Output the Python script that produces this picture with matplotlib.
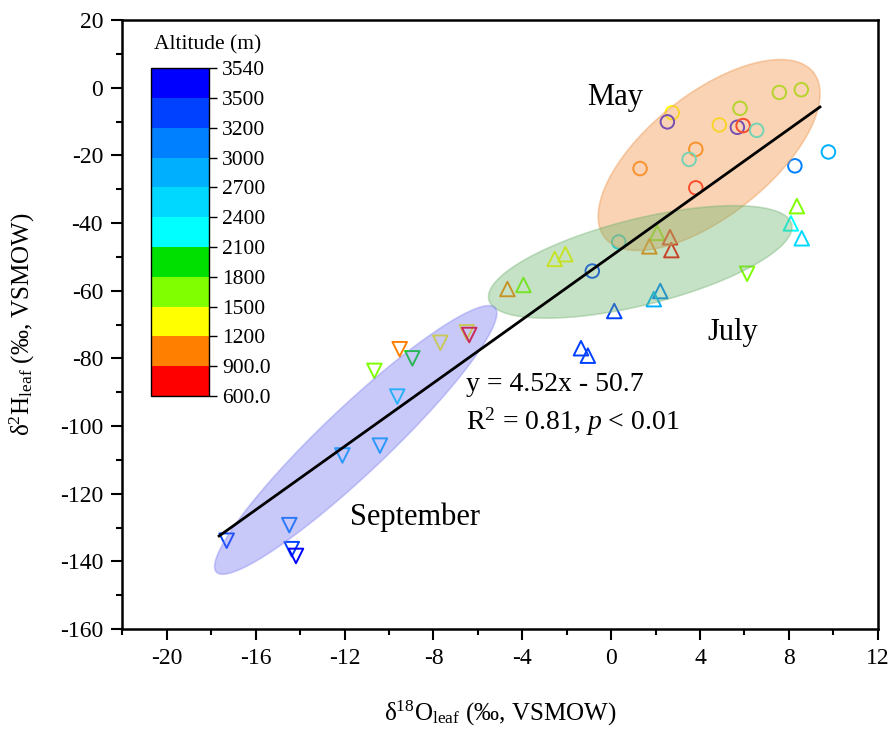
import numpy as np
import matplotlib
matplotlib.use('Agg')
import matplotlib.pyplot as plt
from matplotlib.colors import ListedColormap, BoundaryNorm
from matplotlib.cm import ScalarMappable
from matplotlib.ticker import MultipleLocator

plt.rcParams['font.family'] = ['Liberation Serif', 'DejaVu Serif']
plt.rcParams['mathtext.fontset'] = 'custom'
plt.rcParams['mathtext.rm'] = 'Liberation Serif'
plt.rcParams['mathtext.it'] = 'Liberation Serif:italic'
plt.rcParams['axes.unicode_minus'] = False

# May samples (circles)
may_x = [7.57, 8.56, 2.75, 2.53, 5.80, 4.87, 5.68, 5.94, 6.55, 3.81, 3.51, 1.30, 3.81, 8.27, 9.78, 0.34, -0.85]
may_y = [-1.4, -0.6, -7.4, -10.1, -6.1, -11.0, -11.7, -11.2, -12.6, -18.2, -21.2, -23.9, -29.6, -23.1, -19.0, -45.6, -54.2]
may_alt = [1650, 1650, 1350, 3520, 1650, 1350, 3520, 750, 2250, 1050, 2250, 1050, 750, 3100, 2850, 2550, 3350]

# July samples (up triangles)
jul_x = [8.36, 8.09, 8.58, 2.07, 2.65, 1.72, 2.71, -2.54, -2.06, -4.67, -3.95, 2.21, 1.92, 0.14, -1.36, -1.05]
jul_y = [-35.0, -40.1, -44.5, -42.9, -44.2, -46.9, -48.0, -50.6, -49.2, -59.5, -58.3, -60.1, -62.5, -66.0, -77.0, -79.2]
jul_alt = [1650, 2250, 2550, 1650, 750, 1050, 750, 1350, 1350, 1050, 1650, 3100, 2850, 3350, 3350, 3350]

# September samples (down triangles)
sep_x = [-17.31, -14.49, -14.38, -14.19, -12.10, -10.41, -9.63, -10.66, -9.52, -8.95, -7.69, -6.50, -6.39, 6.12]
sep_y = [-133.9, -129.3, -136.4, -138.4, -108.7, -105.8, -91.3, -83.7, -77.3, -80.0, -75.4, -72.3, -73.1, -55.0]
sep_alt = [3350, 3100, 3350, 3520, 2850, 2850, 2550, 1650, 1050, 1950, 1350, 1350, 750, 1650]

# altitude classes of the colour scale
alt_bounds = [600, 900, 1200, 1500, 1800, 2100, 2400, 2700, 3000, 3200, 3500, 3540]
alt_labels = ['600.0', '900.0', '1200', '1500', '1800', '2100', '2400', '2700', '3000', '3200', '3500', '3540']
alt_colors = ['#ff0000', '#ff8000', '#ffff00', '#80ff00', '#00e000', '#00ffff',
              '#00d8ff', '#00b0ff', '#0080ff', '#0040ff', '#0000ff']

# fitted line as drawn (end points)
fit_x = [-17.65, 9.4]
fit_y = [-132.5, -5.7]

cmap = ListedColormap(alt_colors)
norm = BoundaryNorm(alt_bounds, cmap.N)

fig = plt.figure(figsize=(8.94, 7.31), dpi=100)
ax = fig.add_axes([0.137, 0.1395, 0.8448, 0.8331])

ax.scatter(may_x, may_y, s=95, marker='o', facecolors='none',
           edgecolors=cmap(norm(may_alt)), linewidths=1.4, zorder=2)
ax.scatter(jul_x, jul_y, s=110, marker='^', facecolors='none',
           edgecolors=cmap(norm(jul_alt)), linewidths=1.4, zorder=2)
ax.scatter(sep_x, sep_y, s=110, marker='v', facecolors='none',
           edgecolors=cmap(norm(sep_alt)), linewidths=1.4, zorder=2)

# ellipses drawn in screen proportions (px per unit along x and y)
sx, sy = 22.21, 3.383
def draw_ellipse(cx, cy, a, b, ang, fc, ec, alpha):
    t = np.linspace(0, 2 * np.pi, 200)
    th = np.deg2rad(ang)
    ex = cx + (a * np.cos(th) * np.cos(t) - b * np.sin(th) * np.sin(t)) / sx
    ey = cy + (a * np.sin(th) * np.cos(t) + b * np.cos(th) * np.sin(t)) / sy
    ax.fill(ex, ey, facecolor=fc, alpha=alpha, zorder=3, lw=0)
    ax.plot(ex, ey, color=ec, alpha=alpha, lw=1.2, zorder=3)

draw_ellipse(4.41, -19.9, 133, 61, 38.4, '#f4a460', '#f0a060', 0.48)
draw_ellipse(1.31, -51.5, 156, 43, 14.0, '#6ab46a', '#70b070', 0.38)
draw_ellipse(-11.5, -104.1, 192, 33, 43.5, '#7070f0', '#8080f0', 0.38)

ax.plot(fit_x, fit_y, color='black', lw=2, zorder=4)

ax.text(0.17, -3.0, 'May', fontsize=22, ha='center', va='center')
ax.text(5.49, -72.5, 'July', fontsize=22, ha='center', va='center')
ax.text(-8.83, -126.9, 'September', fontsize=22, ha='center', va='center')
ax.text(-6.55, -87.6, 'y = 4.52x - 50.7', fontsize=20, ha='left', va='center')
ax.text(-6.55, -98.6, r'R$^2$ = 0.81, $p$ < 0.01', fontsize=20, ha='left', va='center')

ax.set_xlim(-22, 12)
ax.set_ylim(-160, 20)
ax.xaxis.set_major_locator(MultipleLocator(4))
ax.xaxis.set_minor_locator(MultipleLocator(2))
ax.yaxis.set_major_locator(MultipleLocator(20))
ax.yaxis.set_minor_locator(MultipleLocator(10))
ax.set_xticks(np.arange(-20, 13, 4))
ax.tick_params(which='major', direction='out', length=8, width=1.5, labelsize=17, pad=6)
ax.tick_params(which='minor', direction='out', length=4.5, width=1.5)
for sp in ax.spines.values():
    sp.set_linewidth(1.8)

ax.set_xlabel(r'δ$^{18}$O$_{\mathrm{leaf}}$ (‰, VSMOW)', fontsize=18)
ax.set_ylabel(r'δ$^{2}$H$_{\mathrm{leaf}}$ (‰, VSMOW)', fontsize=18)
ax.xaxis.set_label_coords(0.5, -0.115)
ax.yaxis.set_label_coords(-0.113, 0.5)

# colour scale
cax = fig.add_axes([0.1685, 0.4582, 0.0656, 0.4487])
sm = ScalarMappable(norm=norm, cmap=cmap)
cb = fig.colorbar(sm, cax=cax, spacing='uniform', ticks=alt_bounds)
cb.ax.set_yticklabels(alt_labels)
cb.ax.tick_params(length=6, width=1, labelsize=15.5, pad=3)
cb.outline.set_linewidth(1)
fig.text(0.232, 0.938, 'Altitude (m)', fontsize=15.5, ha='center', va='center')

fig.savefig('out.png', dpi=100)
